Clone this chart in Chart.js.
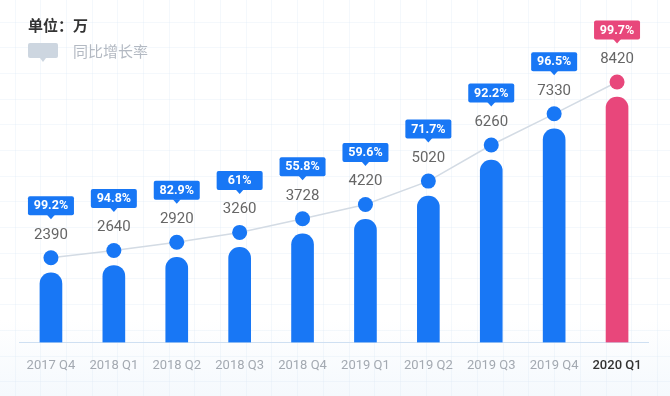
<!DOCTYPE html>
<html>
<head>
<meta charset="utf-8">
<script src="https://cdn.jsdelivr.net/npm/chart.js@4/dist/chart.umd.min.js"></script>
<style>
  html, body { margin: 0; padding: 0; background: #ffffff; }
  #wrap { width: 670px; height: 396px; position: relative; }
</style>
</head>
<body>
<div id="wrap"><canvas id="c" width="670" height="396"></canvas></div>
<script>
const categories = ['2017 Q4', '2018 Q1', '2018 Q2', '2018 Q3', '2018 Q4', '2019 Q1', '2019 Q2', '2019 Q3', '2019 Q4', '2020 Q1'];
const users = [2390, 2640, 2920, 3260, 3728, 4220, 5020, 6260, 7330, 8420];
const growth = ['99.2%', '94.8%', '82.9%', '61%', '55.8%', '59.6%', '71.7%', '92.2%', '96.5%', '99.7%'];
const unitLabel = '单位：万';
const growthLabel = '同比增长率';

const BLUE = '#1877f5';
const PINK = '#e8477b';
const last = categories.length - 1;
const colors = categories.map((_, i) => i === last ? PINK : BLUE);
const DOT_LIFT = 15;

const bgPlugin = {
  id: 'bg',
  beforeDraw(chart) {
    const { ctx, width, height } = chart;
    ctx.save();
    ctx.fillStyle = '#ffffff';
    ctx.fillRect(0, 0, width, height);
    const g = ctx.createLinearGradient(0, 320, 0, height);
    g.addColorStop(0, 'rgba(238,245,252,0)');
    g.addColorStop(1, 'rgba(238,245,252,0.6)');
    ctx.fillStyle = g;
    ctx.fillRect(0, 320, width, height - 320);
    ctx.strokeStyle = 'rgba(220,232,246,0.3)';
    ctx.lineWidth = 1;
    const step = 25.7;
    for (let x = 14.5; x < width; x += step) {
      ctx.beginPath(); ctx.moveTo(Math.round(x) + 0.5, 0); ctx.lineTo(Math.round(x) + 0.5, height); ctx.stroke();
    }
    for (let y = 21.5; y < height; y += step) {
      ctx.beginPath(); ctx.moveTo(0, Math.round(y) + 0.5); ctx.lineTo(width, Math.round(y) + 0.5); ctx.stroke();
    }
    // header text
    ctx.fillStyle = '#333333';
    ctx.font = 'bold 15px "Noto Sans CJK SC", sans-serif';
    ctx.textBaseline = 'middle';
    ctx.textAlign = 'left';
    ctx.fillText(unitLabel, 28, 25);
    // legend bubble
    ctx.fillStyle = '#cdd6e0';
    ctx.beginPath();
    ctx.roundRect(28, 43, 30, 15, 2);
    ctx.fill();
    ctx.beginPath();
    ctx.moveTo(40, 58); ctx.lineTo(46, 58); ctx.lineTo(43, 62); ctx.closePath(); ctx.fill();
    ctx.fillStyle = '#b3b9c2';
    ctx.font = '15px "Noto Sans CJK SC", sans-serif';
    ctx.fillText(growthLabel, 73, 51);
    ctx.restore();
  }
};

const liftPlugin = {
  id: 'lift',
  beforeDatasetDraw(chart, args) {
    if (args.index === 1) { chart.ctx.save(); chart.ctx.translate(0, -DOT_LIFT); }
  },
  afterDatasetDraw(chart, args) {
    if (args.index === 1) chart.ctx.restore();
  }
};

const labelPlugin = {
  id: 'labels',
  afterDatasetsDraw(chart) {
    const { ctx } = chart;
    const meta = chart.getDatasetMeta(1);
    ctx.save();
    meta.data.forEach((pt, i) => {
      const x = pt.x, y = pt.y - DOT_LIFT;
      ctx.textAlign = 'center';
      ctx.textBaseline = 'middle';
      ctx.fillStyle = '#666666';
      ctx.font = '15px Roboto, sans-serif';
      ctx.fillText(String(users[i]), x, y - 23);
      const cy = y - 52;
      const w = 46, h = 19;
      ctx.fillStyle = colors[i];
      ctx.beginPath();
      ctx.roundRect(x - w / 2, cy - h / 2, w, h, 2);
      ctx.fill();
      ctx.beginPath();
      ctx.moveTo(x - 4, cy + h / 2 - 0.5); ctx.lineTo(x + 4, cy + h / 2 - 0.5); ctx.lineTo(x, cy + h / 2 + 4); ctx.closePath();
      ctx.fill();
      ctx.fillStyle = '#ffffff';
      ctx.font = 'bold 12.5px Roboto, sans-serif';
      ctx.fillText(growth[i], x, cy + 0.5);
    });
    ctx.restore();
  }
};

new Chart(document.getElementById('c'), {
  data: {
    labels: categories,
    datasets: [
      {
        type: 'bar',
        data: users,
        backgroundColor: colors,
        barThickness: 22,
        borderRadius: { topLeft: 11, topRight: 11, bottomLeft: 0, bottomRight: 0 },
        borderSkipped: 'bottom',
        order: 2
      },
      {
        type: 'line',
        data: users,
        borderColor: '#d3dbe4',
        borderWidth: 1.5,
        pointRadius: 7.5,
        pointHoverRadius: 7.5,
        pointBackgroundColor: colors,
        pointBorderWidth: 0,
        tension: 0,
        order: 1
      }
    ]
  },
  options: {
    responsive: false,
    animation: false,
    layout: { padding: { left: 19.5, right: 21.5, top: 51, bottom: 14 } },
    plugins: { legend: { display: false }, tooltip: { enabled: false } },
    scales: {
      x: {
        grid: { display: false },
        border: { display: true, color: '#cfe0f2', width: 1 },
        ticks: {
          padding: 8,
          font: (c) => ({ family: 'Roboto, sans-serif', size: 13, weight: c.index === last ? '500' : '400' }),
          color: (c) => c.index === last ? '#333333' : '#a3a9b1'
        }
      },
      y: { display: false, min: 0, max: 10000 }
    }
  },
  plugins: [bgPlugin, liftPlugin, labelPlugin]
});
</script>
</body>
</html>
